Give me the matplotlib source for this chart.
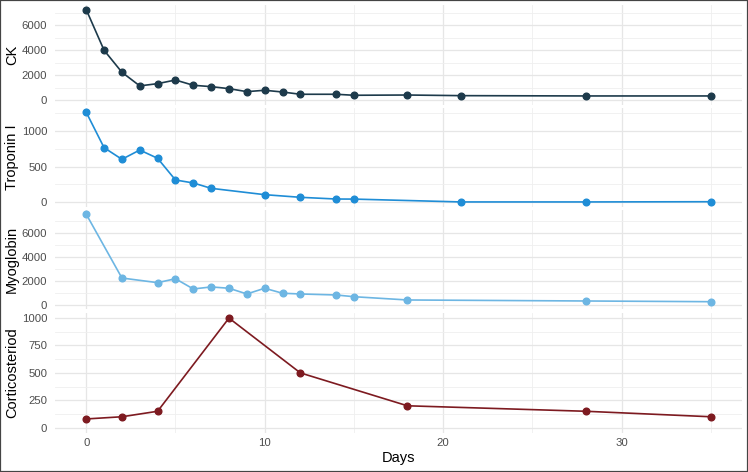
import numpy as np
import matplotlib
matplotlib.use('Agg')
import matplotlib.pyplot as plt
from matplotlib.patches import Rectangle

plt.rcParams['font.family'] = ['Liberation Sans', 'DejaVu Sans']

# data
ck_days = [0, 1, 2, 3, 4, 5, 6, 7, 8, 9, 10, 11, 12, 14, 15, 18, 21, 28, 35]
ck = [7250, 4000, 2240, 1150, 1330, 1620, 1200, 1090, 930, 690, 800, 660, 480, 480, 400, 420, 370, 345, 345]

trop_days = [0, 1, 2, 3, 4, 5, 6, 7, 10, 12, 14, 15, 21, 28, 35]
trop = [1262, 766, 603, 733, 617, 313, 271, 196, 107, 70, 46, 45, 5, 5, 8]

myo_days = [0, 2, 4, 5, 6, 7, 8, 9, 10, 11, 12, 14, 15, 18, 28, 35]
myo = [7600, 2240, 1850, 2180, 1320, 1490, 1380, 900, 1380, 960, 900, 815, 670, 395, 310, 250]

cort_days = [0, 2, 4, 8, 12, 18, 28, 35]
cort = [80, 100, 150, 1000, 500, 200, 150, 100]

panels = [
    ('CK', ck_days, ck, '#1d3a4b', [0, 2000, 4000, 6000], [1000, 3000, 5000, 7000]),
    ('Troponin I', trop_days, trop, '#1f8dd6', [0, 500, 1000], [250, 750, 1250]),
    ('Myoglobin', myo_days, myo, '#6db6e3', [0, 2000, 4000, 6000], [1000, 3000, 5000, 7000]),
    ('Corticosteriod', cort_days, cort, '#7d1a20', [0, 250, 500, 750, 1000], [125, 375, 625, 875]),
]

W, H = 748, 472
# panel extents in pixels (top, bottom)
rows = [(5.1, 104.8), (107.8, 206.8), (209.7, 309.2), (312.6, 433.2)]
left_px, right_px = 55, 742

fig = plt.figure(figsize=(W / 100, H / 100), dpi=100)
fig.patch.set_facecolor('white')

xmin, xmax = 0, 35
xpad = 0.05 * (xmax - xmin)

for i, (name, days, vals, color, major, minor) in enumerate(panels):
    top, bot = rows[i]
    ax = fig.add_axes([left_px / W, 1 - bot / H, (right_px - left_px) / W, (bot - top) / H])
    lo, hi = min(0, min(vals)), max(vals)
    pad = 0.05 * (hi - lo)
    ax.set_ylim(lo - pad, hi + pad)
    ax.set_xlim(xmin - xpad, xmax + xpad)

    ax.set_yticks(major)
    ax.set_yticks(minor, minor=True)
    ax.set_xticks([0, 10, 20, 30])
    ax.set_xticks([5, 15, 25, 35], minor=True)
    ax.grid(which='major', color='#e6e6e6', linewidth=0.9)
    ax.grid(which='minor', color='#efefef', linewidth=0.6)
    ax.set_axisbelow(True)
    for s in ax.spines.values():
        s.set_visible(False)
    ax.tick_params(which='both', length=0, labelsize=8.2, labelcolor='#4d4d4d')
    ax.tick_params(axis='y', pad=5.5)
    ax.tick_params(axis='x', pad=3.5)

    ax.plot(days, vals, color=color, linewidth=1.2, marker='o', markersize=4.8, zorder=3)

    ax.set_ylabel(name, fontsize=10.5, color='black')
    ax.yaxis.set_label_coords((19 - left_px) / (right_px - left_px), 0.5)

    if i < 3:
        ax.tick_params(axis='x', labelbottom=False)
    else:
        ax.set_xlabel('Days', fontsize=10.5, labelpad=2)

# dark frame round the picture
fig.add_artist(Rectangle((0, 0), 1, 1, transform=fig.transFigure, fill=False,
                         edgecolor='#444444', linewidth=1.6))

fig.savefig('out.png', dpi=100)
